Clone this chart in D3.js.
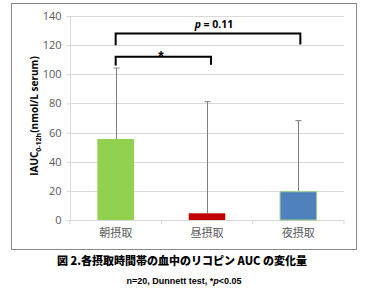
<!DOCTYPE html>
<html><head><meta charset="utf-8">
<script src="https://cdn.jsdelivr.net/npm/d3@7"></script>
<style>body{margin:0;background:#fff;}svg{display:block;}</style>
</head><body>
<script>
const categories = ["朝摂取", "昼摂取", "夜摂取"];
const means = [55.6, 4.6, 19.4];
const errTops = [104.3, 81.2, 68.2];
const barColors = ["#92d050", "#c00000", "#4f81bd"];
const yTicks = [0, 20, 40, 60, 80, 100, 120, 140];

const W = 365, H = 295;
const svg = d3.select("body").append("svg").attr("width", W).attr("height", H);
svg.append("rect").attr("x", 11.5).attr("y", 3.5).attr("width", 345).attr("height", 246)
  .attr("fill", "#fff").attr("stroke", "#888").attr("stroke-width", 1);

const x = d3.scaleBand().domain(categories).range([70, 344]).paddingInner(0.6).paddingOuter(0.3);
const y = d3.scaleLinear().domain([0, 140]).range([220, 16]);

// gridlines
svg.append("g").selectAll("line").data(yTicks.slice(1)).join("line")
  .attr("x1", 70).attr("x2", 344).attr("y1", d => Math.round(y(d)) + 0.5).attr("y2", d => Math.round(y(d)) + 0.5)
  .attr("stroke", "#d9d9d9");

// y axis
const ya = svg.append("g").attr("transform", "translate(70.5,0)")
  .call(d3.axisLeft(y).tickValues(yTicks).tickSize(4).tickPadding(5));
ya.select(".domain").attr("stroke", "#d9d9d9").attr("d", "M-4,16.5H0V220.5H-4");
ya.selectAll(".tick line").attr("stroke", "#d9d9d9");
ya.selectAll("text").attr("font-family", "Open Sans, sans-serif").attr("font-size", 11).attr("fill", "#595959");

// x axis
const xa = svg.append("g").attr("transform", "translate(0,220.5)")
  .call(d3.axisBottom(x).tickSize(0).tickPadding(9));
xa.select(".domain").attr("stroke", "#d9d9d9").attr("d", "M70,0H344");
xa.selectAll("text").attr("font-family", "Noto Sans CJK JP, sans-serif").attr("font-size", 11).attr("fill", "#595959");
const bw = (344 - 70) / categories.length;
svg.append("g").selectAll("line").data(d3.range(categories.length + 1)).join("line")
  .attr("x1", d => 70 + d * bw).attr("x2", d => 70 + d * bw).attr("y1", 220).attr("y2", 224)
  .attr("stroke", "#d9d9d9");

// error bars
const eb = svg.append("g");
categories.forEach((c, i) => {
  const cx = Math.round(x(c) + x.bandwidth() / 2) + 0.5;
  eb.append("line").attr("x1", cx).attr("x2", cx).attr("y1", y(means[i])).attr("y2", y(errTops[i]))
    .attr("stroke", "#7f7f7f").attr("stroke-width", 1);
  eb.append("line").attr("x1", cx - 3).attr("x2", cx + 3).attr("y1", y(errTops[i])).attr("y2", y(errTops[i]))
    .attr("stroke", "#7f7f7f").attr("stroke-width", 1);
});

// bars
svg.append("g").selectAll("rect").data(categories).join("rect")
  .attr("x", d => x(d)).attr("width", x.bandwidth())
  .attr("y", (d, i) => y(means[i])).attr("height", (d, i) => y(0) - y(means[i]))
  .attr("fill", (d, i) => barColors[i])
  .attr("stroke", (d, i) => i === 2 ? "#9bd08a" : "none").attr("stroke-width", 1);

// significance brackets
const cxs = categories.map(c => x(c) + x.bandwidth() / 2);
const br = svg.append("g").attr("fill", "none").attr("stroke", "#000").attr("stroke-width", 2);
br.append("path").attr("d", `M${cxs[0]},${y(120)}V${y(128)}H${cxs[2] + 2}V${y(120.5)}`);
br.append("path").attr("d", `M${cxs[0]},${y(106)}V${y(112)}H${cxs[1] + 4}V${y(106.5)}`);
svg.append("text").attr("x", 161).attr("y", y(109) ).attr("text-anchor", "middle")
  .attr("font-family", "Liberation Sans, sans-serif").attr("font-weight", "bold").attr("font-size", 14).text("*");
const pt = svg.append("text").attr("x", 214).attr("y", y(131.5)).attr("text-anchor", "middle")
  .attr("font-family", "Open Sans, sans-serif").attr("font-weight", "bold").attr("font-size", 10.5);
pt.append("tspan").attr("font-style", "italic").text("p");
pt.append("tspan").text(" = 0.11");

// y label
const yl = svg.append("text").attr("transform", "translate(38,116) rotate(-90)").attr("text-anchor", "middle")
  .attr("font-family", "Open Sans, sans-serif").attr("font-weight", "bold").attr("font-size", 10).attr("fill", "#000");
yl.append("tspan").text("IAUC");
yl.append("tspan").attr("font-size", 7).attr("dy", 3).text("0-12h");
yl.append("tspan").attr("dy", -3).text("(nmol/L serum)");

// captions
svg.append("text").attr("x", 182).attr("y", 265).attr("text-anchor", "middle")
  .attr("font-family", "Noto Sans CJK JP, sans-serif").attr("font-weight", "900").attr("font-size", 11)
  .text("図 2.各摂取時間帯の血中のリコピン AUC の変化量");
const c2 = svg.append("text").attr("x", 184).attr("y", 284).attr("text-anchor", "middle")
  .attr("font-family", "Liberation Sans, sans-serif").attr("font-weight", "bold").attr("font-size", 9);
c2.append("tspan").text("n=20, Dunnett test, *");
c2.append("tspan").attr("font-style", "italic").text("p");
c2.append("tspan").text("<0.05");
</script>
</body></html>
